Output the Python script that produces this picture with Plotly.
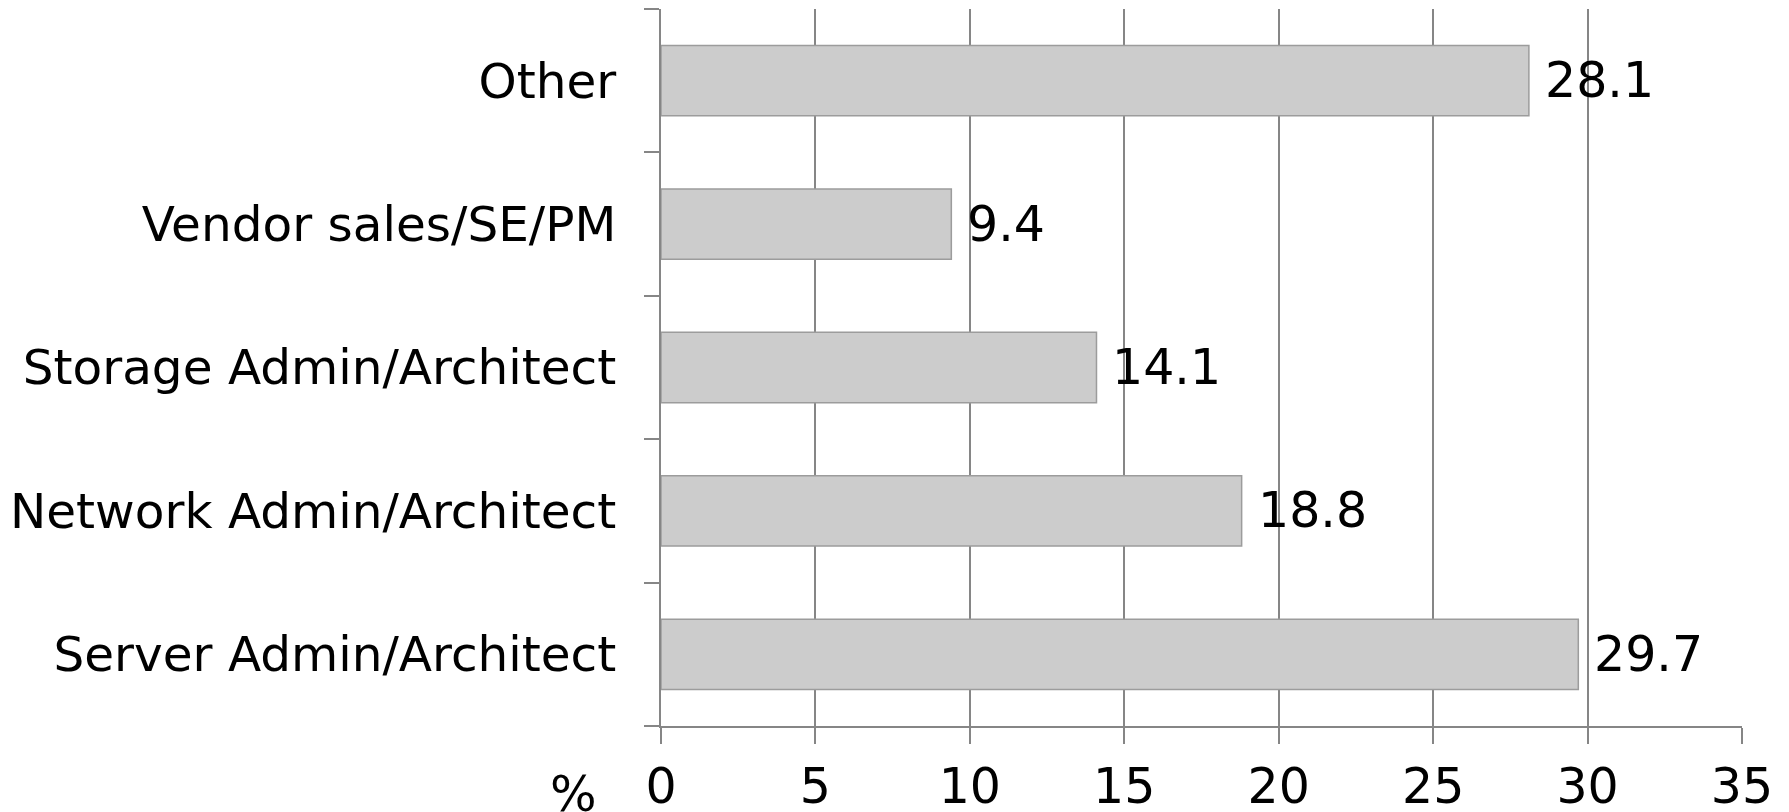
import plotly.graph_objects as go

# Survey respondents by job role (percent)
roles = [
    "Server Admin/Architect",
    "Network Admin/Architect",
    "Storage Admin/Architect",
    "Vendor sales/SE/PM",
    "Other",
]
shares = [29.7, 18.8, 14.1, 9.4, 28.1]
x_ticks = [0, 5, 10, 15, 20, 25, 30, 35]

FONT = "DejaVu Sans"
FS = 49
AXIS_GREY = "#868686"

W, H = 1789, 812
L, R, T, B = 660.5, 47, 9, 86.3
pw, ph = W - L - R, H - T - B

fig = go.Figure()
fig.add_trace(
    go.Bar(
        x=shares,
        y=roles,
        orientation="h",
        width=0.49,
        marker=dict(color="#cccccc", line=dict(color="#9c9c9c", width=1.5)),
        hoverinfo="x+y",
    )
)

# value labels to the right of each bar
for role, v in zip(roles, shares):
    fig.add_annotation(
        x=v, y=role, xref="x", yref="y",
        text=f"{v:.1f}", showarrow=False,
        xanchor="left", yanchor="middle", xshift=14,
        font=dict(family=FONT, size=FS, color="#000000"),
    )

# unit label beside the x tick labels
fig.add_annotation(
    x=(573 - L) / pw, y=(H - 794 - B) / ph, xref="x domain", yref="y domain",
    text="%", showarrow=False, xanchor="center", yanchor="middle",
    font=dict(family=FONT, size=FS, color="#000000"),
)

fig.update_layout(
    width=W, height=H,
    margin=dict(l=L, r=R, t=T, b=B, pad=0, autoexpand=False),
    paper_bgcolor="white", plot_bgcolor="white",
    showlegend=False,
    font=dict(family=FONT, size=FS, color="#000000"),
    bargap=0.51,
)
fig.update_xaxes(
    range=[0, 35], tickmode="array", tickvals=x_ticks,
    ticktext=[str(t) for t in x_ticks],
    showgrid=True, gridcolor=AXIS_GREY, gridwidth=2,
    showline=True, linecolor=AXIS_GREY, linewidth=2,
    ticks="outside", ticklen=16, tickwidth=2, tickcolor=AXIS_GREY,
    zeroline=False, automargin=False,
    tickfont=dict(family=FONT, size=FS, color="#000000"),
)
fig.update_yaxes(
    categoryorder="array", categoryarray=roles,
    showgrid=False,
    showline=True, linecolor=AXIS_GREY, linewidth=2,
    ticks="outside", ticklen=15, tickwidth=2, tickcolor=AXIS_GREY,
    tickson="boundaries", ticklabelstandoff=33, automargin=False,
    tickfont=dict(family=FONT, size=48.5, color="#000000"),
)

fig.write_html("out.html")
